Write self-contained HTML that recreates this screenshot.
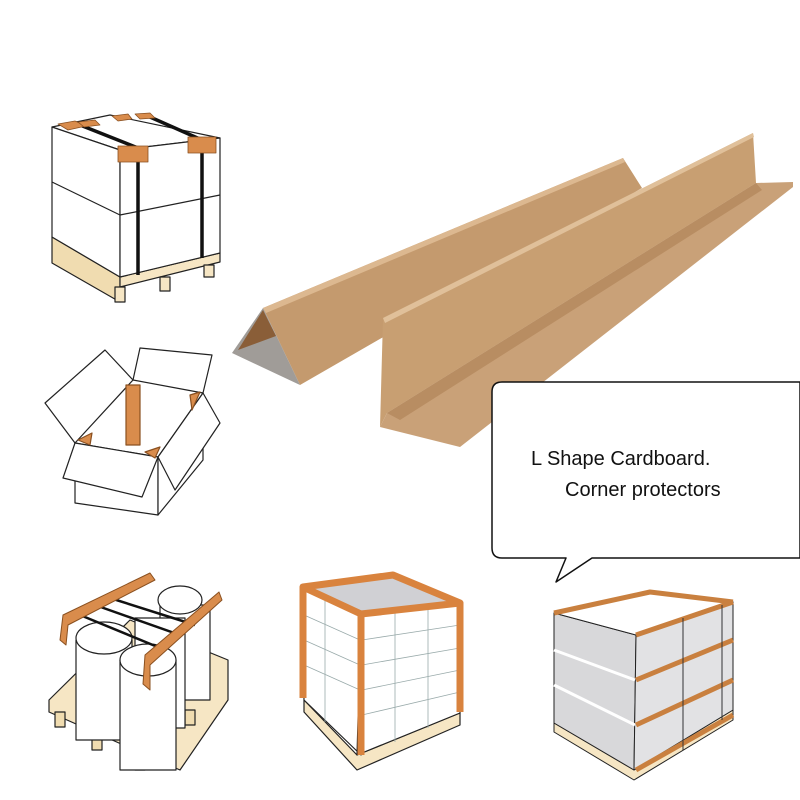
<!DOCTYPE html>
<html><head><meta charset="utf-8"><style>
html,body{margin:0;padding:0;background:#fff;}
svg{display:block;}
</style></head><body>
<svg width="800" height="800" viewBox="0 0 800 800" xmlns="http://www.w3.org/2000/svg" stroke-linejoin="round">
<rect width="800" height="800" fill="#fff"/>

<!-- Box on pallet (top-left) -->
<g stroke="#222" stroke-width="1.2">
  <polygon points="52,237 120,277 120,302 52,263" fill="#f0dcb0"/>
  <polygon points="120,277 220,253 220,262 120,287" fill="#f6e6c4"/>
  <rect x="115" y="287" width="10" height="15" fill="#f6e6c4"/>
  <rect x="160" y="277" width="10" height="14" fill="#f6e6c4"/>
  <rect x="204" y="265" width="10" height="12" fill="#f6e6c4"/>
  <polygon points="52,127 110,115 220,138 120,150" fill="#fff"/>
  <polygon points="52,127 120,150 120,277 52,237" fill="#fff"/>
  <polygon points="120,150 220,138 220,253 120,277" fill="#fff"/>
  <polyline points="52,182 120,215 220,195" fill="none"/>
</g>
<g stroke="#111" stroke-width="3.5" fill="none">
  <line x1="138" y1="148" x2="138" y2="275"/>
  <line x1="202" y1="140" x2="202" y2="258"/>
  <line x1="75" y1="123" x2="138" y2="148"/>
  <line x1="150" y1="117" x2="202" y2="140"/>
</g>
<g fill="#d98c4c" stroke="#8a5020" stroke-width="0.8">
  <polygon points="58,124 75,121 86,126 68,130"/>
  <polygon points="78,122 95,120 100,125 84,127"/>
  <polygon points="112,116 128,114 132,119 118,121"/>
  <polygon points="135,114 150,113 155,118 140,119"/>
  <rect x="118" y="146" width="30" height="16"/>
  <rect x="188" y="137" width="28" height="16"/>
</g>

<!-- Open box -->
<g stroke="#222" stroke-width="1.2" fill="#fff">
  <polygon points="140,348 212,355 203,393 133,380"/>
  <polygon points="45,403 105,350 133,380 75,443"/>
  <polygon points="75,443 158,457 158,515 75,503"/>
  <polygon points="158,457 203,393 203,460 158,515"/>
  <polygon points="203,393 220,423 175,490 158,457"/>
  <polygon points="75,443 158,457 142,497 63,478"/>
  <rect x="126" y="385" width="14" height="60" fill="#d98c4c" stroke="#8a5020"/>
  <polygon points="78,440 92,433 90,445" fill="#d98c4c" stroke="#8a5020"/>
  <polygon points="190,395 200,392 192,410" fill="#d98c4c" stroke="#8a5020"/>
  <polygon points="145,452 160,447 155,458" fill="#d98c4c" stroke="#8a5020"/>
</g>

<!-- Cardboard prism 1 -->
<polygon points="263,308 623,158 642,188 300,385" fill="#c49a6e"/>
<polygon points="232,353 263,308 300,385" fill="#a09c98"/>
<polygon points="238,350 263,310 276,336" fill="#8a5e38"/>
<polygon points="263,308 623,158 625,162 266,313" fill="#dcb890"/>
<!-- Cardboard prism 2 (L shape) -->
<polygon points="383,318 753,133 756,183 387,413 380,427" fill="#c89f72"/>
<polygon points="380,427 387,413 756,183 793,182 793,187 460,447" fill="#c9a178"/>
<polygon points="387,413 756,183 762,190 400,420" fill="#b88d62"/>
<polygon points="383,318 753,133 754,137 385,323" fill="#e0c09a"/>

<!-- Speech bubble -->
<path d="M502,382 H800 V558 H592 L556,582 L566,558 H502 Q492,558 492,548 V392 Q492,382 502,382 Z" fill="#fff" stroke="#111" stroke-width="1.5"/>
<text x="531" y="465" font-family="Liberation Sans, sans-serif" font-size="20" fill="#111">L Shape Cardboard.</text>
<text x="565" y="496" font-family="Liberation Sans, sans-serif" font-size="20" fill="#111">Corner protectors</text>

<!-- Rolls on pallet -->
<g stroke="#222" stroke-width="1.2">
  <polygon points="49,712 180,770 228,700 228,660 130,620 49,700" fill="#f6e6c4"/>
  <rect x="55" y="712" width="10" height="15" fill="#f0dcb0"/>
  <rect x="92" y="735" width="10" height="15" fill="#f0dcb0"/>
  <rect x="135" y="755" width="10" height="15" fill="#f0dcb0"/>
  <rect x="185" y="710" width="10" height="15" fill="#f0dcb0"/>
  <g fill="#fff">
    <rect x="160" y="605" width="50" height="95"/>
    <rect x="135" y="618" width="50" height="110"/>
    <ellipse cx="180" cy="600" rx="22" ry="14"/>
    <rect x="76" y="640" width="56" height="100"/>
    <ellipse cx="104" cy="638" rx="28" ry="16"/>
    <rect x="120" y="660" width="56" height="110"/>
    <ellipse cx="148" cy="660" rx="28" ry="16"/>
  </g>
</g>
<g stroke="#111" stroke-width="2.5">
  <line x1="80" y1="615" x2="165" y2="650"/>
  <line x1="95" y1="605" x2="180" y2="635"/>
  <line x1="110" y1="598" x2="195" y2="625"/>
</g>
<polygon points="63,615 150,573 155,580 68,625 66,645 60,640" fill="#d98c4c" stroke="#8a5020"/>
<polygon points="145,655 219,592 222,600 150,665 150,690 143,684" fill="#d98c4c" stroke="#8a5020"/>

<!-- Middle pallet with orange frame -->
<g stroke="#222" stroke-width="1.2">
  <polygon points="304,700 357,755 460,713 460,725 357,770 304,712" fill="#f6e6c4"/>
  <polygon points="301,585 361,613 361,755 304,700" fill="#fff"/>
  <polygon points="361,613 462,602 460,713 357,755" fill="#fff"/>
  <polygon points="301,585 393,573 462,602 361,613" fill="#d0d0d4"/>
</g>
<g stroke="#9aa" stroke-width="0.8" fill="none">
  <line x1="362" y1="640" x2="460" y2="625"/><line x1="362" y1="665" x2="460" y2="648"/>
  <line x1="362" y1="690" x2="460" y2="670"/><line x1="362" y1="715" x2="460" y2="692"/>
  <line x1="395" y1="610" x2="395" y2="742"/><line x1="428" y1="606" x2="428" y2="728"/>
  <line x1="304" y1="615" x2="360" y2="640"/><line x1="304" y1="640" x2="360" y2="665"/>
  <line x1="304" y1="665" x2="360" y2="690"/><line x1="325" y1="598" x2="325" y2="722"/>
</g>
<g fill="none" stroke="#d9833e" stroke-width="7">
  <polygon points="303,587 393,575 460,603 361,614"/>
  <line x1="361" y1="614" x2="361" y2="755"/>
  <line x1="303" y1="587" x2="303" y2="698"/>
  <line x1="460" y1="603" x2="460" y2="712"/>
</g>

<!-- Right stacked boards -->
<g stroke="#222" stroke-width="1">
  <polygon points="554,723 634,770 733,710 733,720 634,780 554,732" fill="#f6e6c4"/>
  <polygon points="554,613 636,635 634,770 554,723" fill="#d8d8da"/>
  <polygon points="636,635 733,602 733,710 634,770" fill="#e2e2e4"/>
  <polygon points="554,613 650,592 733,602 636,635" fill="#fff"/>
  <line x1="554" y1="650" x2="635" y2="680" stroke="#fff" stroke-width="3"/>
  <line x1="554" y1="685" x2="635" y2="725" stroke="#fff" stroke-width="3"/>
</g>
<g fill="none" stroke="#c9803f" stroke-width="5">
  <polyline points="554,613 650,592 733,602"/>
  <line x1="636" y1="635" x2="733" y2="602"/>
  <line x1="636" y1="680" x2="733" y2="640"/>
  <line x1="636" y1="725" x2="733" y2="680"/>
  <line x1="636" y1="770" x2="733" y2="715"/>
</g>
<g stroke="#333" stroke-width="1" fill="none">
  <line x1="683" y1="618" x2="683" y2="750"/>
  <line x1="722" y1="605" x2="722" y2="720"/>
</g>
</svg>
</body></html>
